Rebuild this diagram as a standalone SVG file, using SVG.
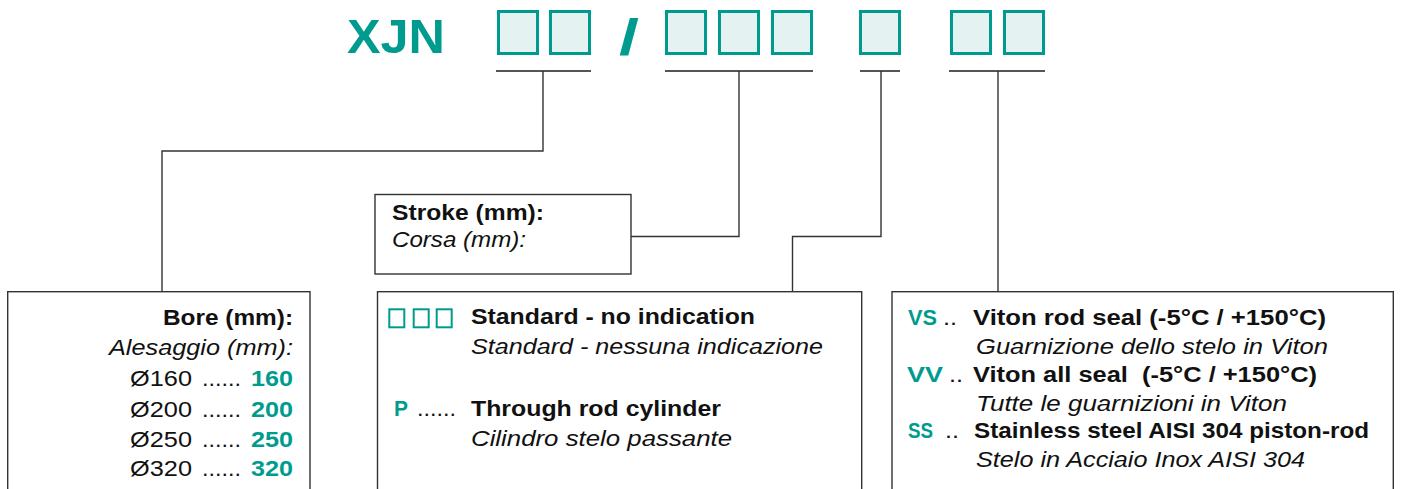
<svg xmlns="http://www.w3.org/2000/svg" width="1407" height="489" viewBox="0 0 1407 489">
<defs>
<style>
.t{font-family:"Liberation Sans",Arial,sans-serif;font-size:22px;fill:#111}
.b{font-weight:bold}
.i{font-style:italic}
.g{fill:#009B8F;font-weight:bold}
.code{fill:#E4F3F2;stroke:#009B8F;stroke-width:3}
.sq{fill:none;stroke:#009B8F;stroke-width:2}
.box{fill:#fff;stroke:#333;stroke-width:1.4}
.ul{stroke:#555;stroke-width:2;fill:none}
.cn{stroke:#333;stroke-width:1.4;fill:none}
</style>
</defs>
<rect width="1407" height="489" fill="#fff"/>
<g id="code">
<text class="t g" x="347" y="53" style="font-size:49px" textLength="98" lengthAdjust="spacingAndGlyphs">XJN</text>
<rect class="code" x="498.5" y="11.5" width="39" height="42"/>
<rect class="code" x="550.5" y="11.5" width="39" height="42"/>
<text class="t g" x="619" y="54" style="font-size:50px" textLength="20" lengthAdjust="spacingAndGlyphs">/</text>
<rect class="code" x="666.5" y="11.5" width="39" height="42"/>
<rect class="code" x="719.5" y="11.5" width="39" height="42"/>
<rect class="code" x="772.5" y="11.5" width="39" height="42"/>
<rect class="code" x="860.5" y="11.5" width="39" height="42"/>
<rect class="code" x="951.5" y="11.5" width="39" height="42"/>
<rect class="code" x="1004.5" y="11.5" width="39" height="42"/>
</g>
<g id="connectors">
<path class="ul" d="M496 71H591M665 71H813M860 71H900M949 71H1045"/>
<path class="cn" d="M543 71V151H162V292"/>
<path class="cn" d="M739 71V236.5H631"/>
<path class="cn" d="M881 71V236.5H792.5V292"/>
<path class="cn" d="M998 71V292"/>
</g>
<g id="bore">
<rect class="box" x="7.7" y="291.7" width="302.3" height="220"/>
<text class="t b" x="293" y="325" text-anchor="end" textLength="130" lengthAdjust="spacingAndGlyphs">Bore (mm):</text>
<text class="t i" x="293" y="355" text-anchor="end" textLength="184" lengthAdjust="spacingAndGlyphs">Alesaggio (mm):</text>
<text class="t" x="130" y="386" textLength="62" lengthAdjust="spacingAndGlyphs">Ø160</text>
<text class="t" x="202" y="386" textLength="39" lengthAdjust="spacingAndGlyphs">......</text>
<text class="t g" x="251" y="386" textLength="42" lengthAdjust="spacingAndGlyphs">160</text>
<text class="t" x="130" y="416.5" textLength="62" lengthAdjust="spacingAndGlyphs">Ø200</text>
<text class="t" x="202" y="416.5" textLength="39" lengthAdjust="spacingAndGlyphs">......</text>
<text class="t g" x="251" y="416.5" textLength="42" lengthAdjust="spacingAndGlyphs">200</text>
<text class="t" x="130" y="446.5" textLength="62" lengthAdjust="spacingAndGlyphs">Ø250</text>
<text class="t" x="202" y="446.5" textLength="39" lengthAdjust="spacingAndGlyphs">......</text>
<text class="t g" x="251" y="446.5" textLength="42" lengthAdjust="spacingAndGlyphs">250</text>
<text class="t" x="130" y="476" textLength="62" lengthAdjust="spacingAndGlyphs">Ø320</text>
<text class="t" x="202" y="476" textLength="39" lengthAdjust="spacingAndGlyphs">......</text>
<text class="t g" x="251" y="476" textLength="42" lengthAdjust="spacingAndGlyphs">320</text>
</g>
<g id="stroke">
<rect class="box" x="375" y="194.5" width="256" height="79.5"/>
<text class="t b" x="392" y="219.5" textLength="152" lengthAdjust="spacingAndGlyphs">Stroke (mm):</text>
<text class="t i" x="392" y="247" textLength="134" lengthAdjust="spacingAndGlyphs">Corsa (mm):</text>
</g>
<g id="version">
<rect class="box" x="377.5" y="291.7" width="484.2" height="220"/>
<rect class="sq" x="389.3" y="309.3" width="15" height="18"/>
<rect class="sq" x="413.7" y="309.3" width="15" height="18"/>
<rect class="sq" x="436.7" y="309.3" width="15" height="18"/>
<text class="t b" x="471" y="324" textLength="284" lengthAdjust="spacingAndGlyphs">Standard - no indication</text>
<text class="t i" x="471" y="354" textLength="352" lengthAdjust="spacingAndGlyphs">Standard - nessuna indicazione</text>
<text class="t g" x="394" y="416" textLength="14" lengthAdjust="spacingAndGlyphs">P</text>
<text class="t" x="417" y="416" textLength="39" lengthAdjust="spacingAndGlyphs">......</text>
<text class="t b" x="471" y="416" textLength="250" lengthAdjust="spacingAndGlyphs">Through rod cylinder</text>
<text class="t i" x="471" y="446" textLength="261" lengthAdjust="spacingAndGlyphs">Cilindro stelo passante</text>
</g>
<g id="options">
<rect class="box" x="892" y="291.7" width="501.3" height="220"/>
<text class="t g" x="908" y="325" textLength="29" lengthAdjust="spacingAndGlyphs">VS</text>
<text class="t" x="943" y="325" textLength="14" lengthAdjust="spacingAndGlyphs">..</text>
<text class="t b" x="973" y="325" textLength="353" lengthAdjust="spacingAndGlyphs">Viton rod seal (-5°C / +150°C)</text>
<text class="t i" x="976" y="354" textLength="352" lengthAdjust="spacingAndGlyphs">Guarnizione dello stelo in Viton</text>
<text class="t g" x="907" y="382" textLength="36" lengthAdjust="spacingAndGlyphs">VV</text>
<text class="t" x="949" y="382" textLength="14" lengthAdjust="spacingAndGlyphs">..</text>
<text class="t b" x="973" y="382" textLength="344" lengthAdjust="spacingAndGlyphs" xml:space="preserve">Viton all seal  (-5°C / +150°C)</text>
<text class="t i" x="976" y="411" textLength="311" lengthAdjust="spacingAndGlyphs">Tutte le guarnizioni in Viton</text>
<text class="t g" x="908" y="438" textLength="25" lengthAdjust="spacingAndGlyphs">SS</text>
<text class="t" x="945" y="438" textLength="14" lengthAdjust="spacingAndGlyphs">..</text>
<text class="t b" x="974" y="438" textLength="395" lengthAdjust="spacingAndGlyphs">Stainless steel AISI 304 piston-rod</text>
<text class="t i" x="976" y="467" textLength="329" lengthAdjust="spacingAndGlyphs">Stelo in Acciaio Inox AISI 304</text>
</g>
</svg>
